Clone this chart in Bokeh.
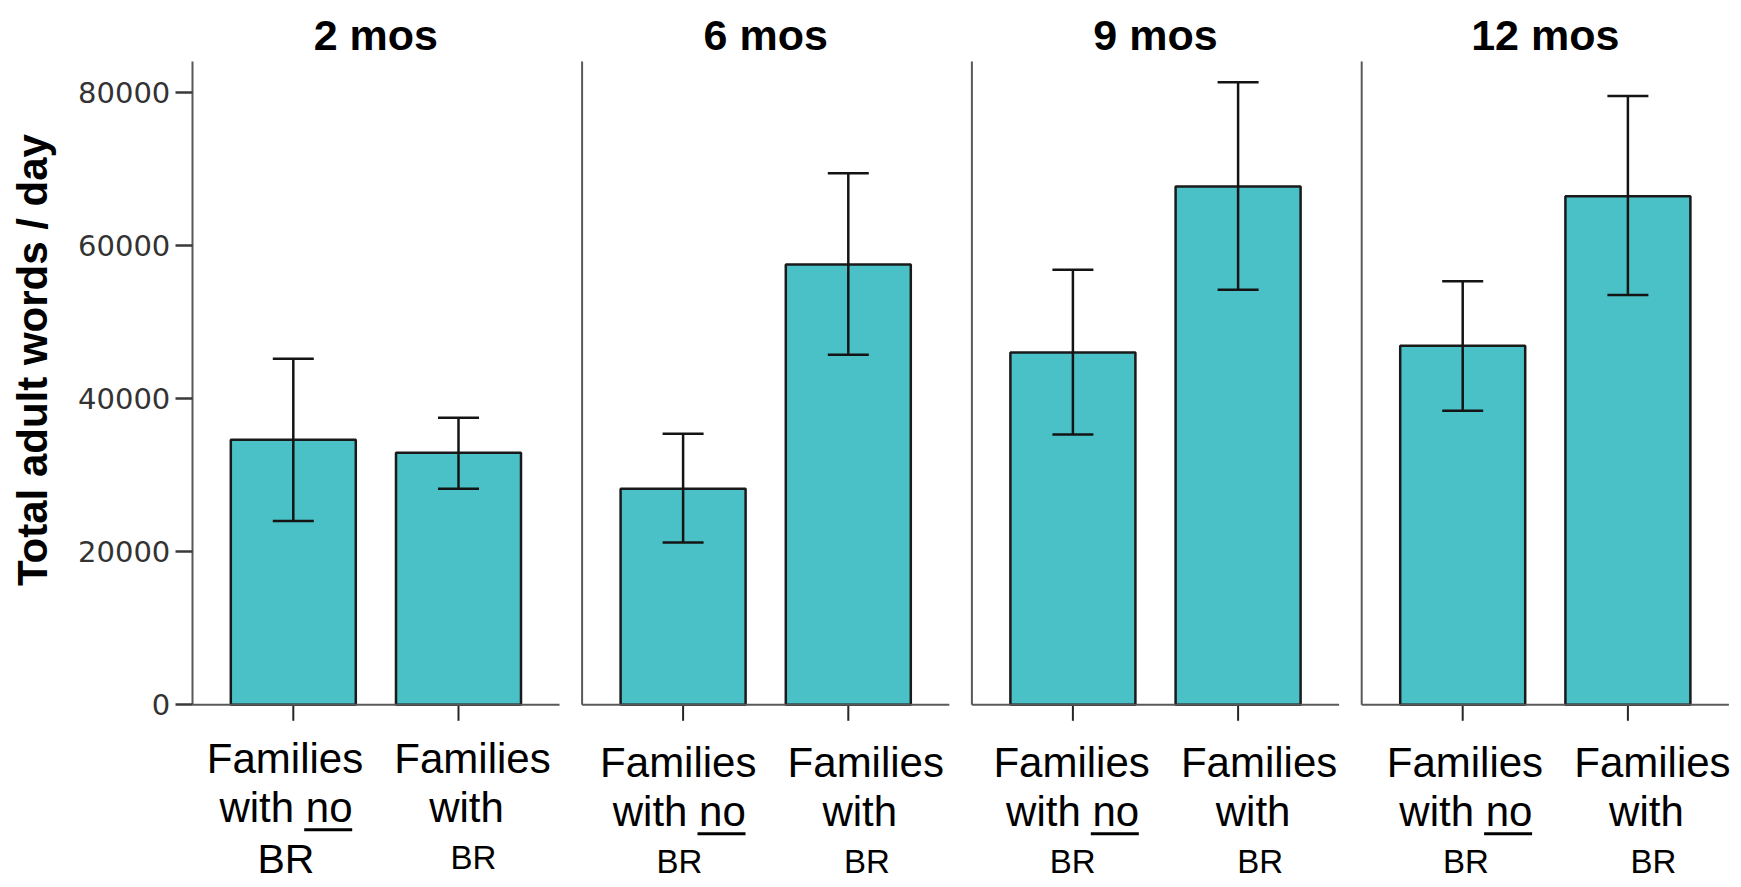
from math import pi

from bokeh.core.properties import value
from bokeh.embed import file_html
from bokeh.models import (BasicTickFormatter, ColumnDataSource, FixedTicker,
                          LinearAxis, Range1d)
from bokeh.plotting import figure
from bokeh.resources import INLINE

# ---------------------------------------------------------------- data
periods = ["2 mos", "6 mos", "9 mos", "12 mos"]
groups = ["no BR", "BR"]

mean_no_br = [34600, 28200, 46000, 46900]
low_no_br = [24000, 21200, 35300, 38400]
high_no_br = [45200, 35400, 56800, 55300]

mean_br = [32900, 57500, 67700, 66400]
low_br = [28200, 45700, 54200, 53500]
high_br = [37500, 69400, 81300, 79500]

y_ticks = [0, 20000, 40000, 60000, 80000]
y_title = "Total adult words / day"
label_line1 = "Families"
label_line2 = ["with no", "with"]
label_line3 = "BR"

# ---------------------------------------------------------------- layout
W, H = 1741, 887
PX_PER_X = 165.2          # screen pixels per x unit (one bar slot)
X0_PX = 292.8             # screen column of the first bar centre
STRIDE = 389.8 / PX_PER_X  # distance between facet panels, in x units
PANEL_PAD = 101 / PX_PER_X  # panel edge to nearest bar centre
BAR_W = 125 / PX_PER_X
CAP_W = 41 / PX_PER_X
Y0_PX = 704.3             # screen row of value 0
Y_PER_PX = 20000 / 153.15
TEXT_LIFT = 16            # text glyphs sit this many px below their anchor


def x_at(px):
    return (px - X0_PX) / PX_PER_X


def y_at(py):
    return (Y0_PX - py) * Y_PER_PX


def ty_at(py):
    # anchor for a text whose baseline should land on screen row py
    return y_at(py - TEXT_LIFT)


AXIS_TOP = y_at(61)
TICK_LEN = 16 * Y_PER_PX

FILL = "#49C1C6"
EDGE = "#1a1a1a"
RULE = "#595959"
SANS = value("Liberation Sans")

p = figure(width=W, height=H, output_backend="svg", toolbar_location=None,
           x_axis_location=None, y_axis_location=None,
           x_range=Range1d(x_at(0), x_at(W)), y_range=Range1d(y_at(H), y_at(0)),
           min_border=0, outline_line_color=None,
           background_fill_color="white", border_fill_color="white")
p.grid.visible = False

# ---------------------------------------------------------------- bars
xs, tops, lows, highs = [], [], [], []
for i in range(len(periods)):
    for j, (m, lo, hi) in enumerate([(mean_no_br[i], low_no_br[i], high_no_br[i]),
                                     (mean_br[i], low_br[i], high_br[i])]):
        xs.append(i * STRIDE + j)
        tops.append(m)
        lows.append(lo)
        highs.append(hi)

bars = ColumnDataSource(dict(x=xs, top=tops, lo=lows, hi=highs,
                             cap0=[x - CAP_W / 2 for x in xs],
                             cap1=[x + CAP_W / 2 for x in xs]))

p.vbar(x="x", top="top", bottom=0, width=BAR_W, source=bars,
       fill_color=FILL, line_color=EDGE, line_width=2.5)

# error bars: stem and the two caps
p.segment(x0="x", y0="lo", x1="x", y1="hi", source=bars,
          line_color="#141414", line_width=2.5)
p.segment(x0="cap0", y0="lo", x1="cap1", y1="lo", source=bars,
          line_color="#141414", line_width=2.5)
p.segment(x0="cap0", y0="hi", x1="cap1", y1="hi", source=bars,
          line_color="#141414", line_width=2.5)

# category tick marks under each bar
p.segment(x0=xs, y0=[0] * len(xs), x1=xs, y1=[-TICK_LEN] * len(xs),
          line_color="#262626", line_width=2)

# ---------------------------------------------------------------- panel frames
lefts = [i * STRIDE - PANEL_PAD for i in range(len(periods))]
rights = [i * STRIDE + 1 + PANEL_PAD for i in range(len(periods))]
p.segment(x0=lefts, y0=[0] * 4, x1=rights, y1=[0] * 4,
          line_color=RULE, line_width=2)
p.segment(x0=lefts[1:], y0=[0] * 3, x1=lefts[1:], y1=[AXIS_TOP] * 3,
          line_color=RULE, line_width=2)

# shared value axis on the first panel
yaxis = LinearAxis(fixed_location=lefts[0],
                   ticker=FixedTicker(ticks=y_ticks),
                   formatter=BasicTickFormatter(use_scientific=False),
                   bounds=(0, AXIS_TOP),
                   axis_line_color=RULE, axis_line_width=2,
                   major_tick_line_color="#3a3a3a", major_tick_line_width=2.5,
                   major_tick_out=17, major_tick_in=0,
                   minor_tick_out=0, minor_tick_in=0,
                   major_label_text_font="DejaVu Sans",
                   major_label_text_font_size="29px",
                   major_label_text_color="#333333",
                   major_label_standoff=5)
p.add_layout(yaxis, "left")

# ---------------------------------------------------------------- texts
p.text(x=[i * STRIDE + 0.5 for i in range(len(periods))], y=[ty_at(50)] * 4,
       text=periods, text_align="center", text_baseline="alphabetic",
       text_font=SANS, text_font_style="bold", text_font_size="43px",
       text_color="black")

# rotated title: its baseline runs along screen column 48
p.text(x=[x_at(48 - TEXT_LIFT)], y=[y_at(359.5)], text=[y_title], angle=pi / 2,
       text_align="center", text_baseline="alphabetic",
       text_font=SANS, text_font_style="bold", text_font_size="42px",
       text_color="black")

# category labels, three lines under each bar
LABEL_X0, LABEL_STRIDE, LABEL_STEP = 284.5, 393.3, 187.5
for i in range(len(periods)):
    shift = 0 if i == 0 else 4
    for j in range(len(groups)):
        col = LABEL_X0 + i * LABEL_STRIDE + j * LABEL_STEP
        b1, b2, b3 = 774.3 + shift, 823.3 + shift, 874.3 + shift
        c2 = col - 6 if j == 1 else col + 1
        c3 = col + 1
        p.text(x=[x_at(col), x_at(c2)], y=[ty_at(b1), ty_at(b2)],
               text=[label_line1, label_line2[j]],
               text_align="center", text_baseline="alphabetic",
               text_font=SANS, text_font_size="42px", text_color="black")
        big = (i == 0 and j == 0)
        p.text(x=[x_at(c3)], y=[ty_at(b3 if big else b3 - 1)], text=[label_line3],
               text_align="center", text_baseline="alphabetic",
               text_font=SANS, text_font_size="41px" if big else "33px",
               text_color="black")
        if j == 0:
            # underline beneath "no"
            right = c2 + 66.2
            p.segment(x0=[x_at(right - 48)], y0=[y_at(b2 + 6)],
                      x1=[x_at(right)], y1=[y_at(b2 + 6)],
                      line_color="black", line_width=3)

open("out.html", "w").write(file_html(p, INLINE))
